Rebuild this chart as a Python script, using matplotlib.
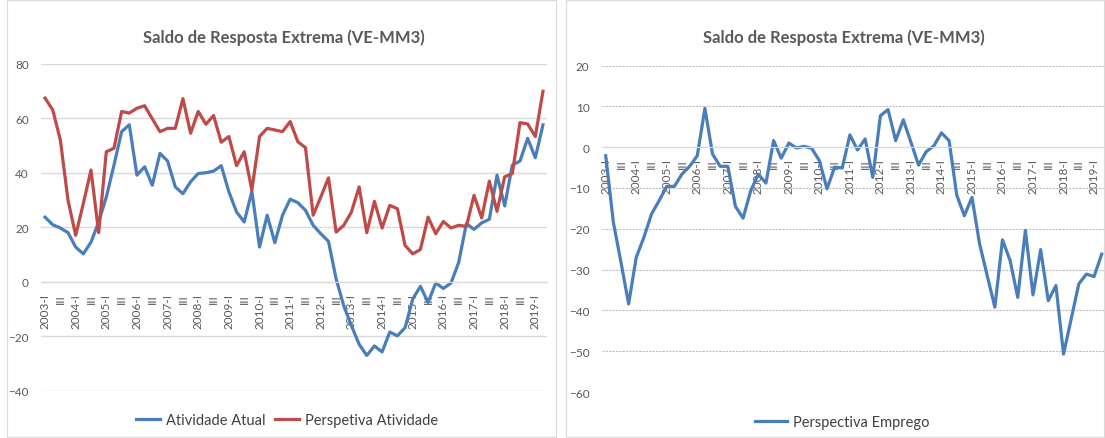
import matplotlib
matplotlib.use("Agg")
import matplotlib.pyplot as plt
from matplotlib.patches import Rectangle

plt.rcParams["font.family"] = ["Lato", "DejaVu Sans"]

# quarterly categories 2003-I .. 2019-II
years = list(range(2003, 2020))
quarters = ["I", "II", "III", "IV"]
categories = [f"{y}-{q}" for y in years for q in quarters][:66]
tick_labels = [c if c.endswith("-I") else c.split("-")[1] for c in categories]

atividade_atual = [
    23.7, 20.9, 19.7, 18.0, 12.7, 10.2, 14.5, 21.9, 31.1, 42.8,
    55.1, 57.6, 39.1, 42.2, 35.4, 47.1, 44.3, 34.8, 32.3, 36.7,
    39.7, 40.0, 40.6, 42.6, 33.0, 25.6, 21.9, 33.2, 12.7, 24.4,
    14.3, 24.4, 30.3, 29.0, 26.2, 20.7, 17.6, 14.8, 1.0, -8.9,
    -16.2, -23.0, -27.1, -23.6, -25.8, -18.5, -19.9, -16.9, -6.4, -1.7,
    -7.6, -0.5, -2.5, -0.5, 7.1, 21.3, 19.2, 21.6, 22.9, 39.1,
    27.8, 42.8, 44.3, 52.6, 45.5, 57.6,
]
perspetiva_atividade = [
    67.4, 63.1, 52.0, 29.9, 17.0, 28.7, 41.0, 18.0, 47.7, 49.0,
    62.5, 61.9, 63.7, 64.6, 59.8, 55.1, 56.3, 56.3, 67.2, 54.5,
    62.5, 57.8, 61.0, 51.2, 53.3, 42.6, 47.7, 33.6, 53.3, 56.3,
    55.7, 55.1, 58.8, 51.4, 49.2, 24.4, 31.1, 38.1, 18.2, 20.7,
    25.6, 34.8, 18.0, 29.5, 19.7, 28.0, 26.8, 13.3, 10.2, 11.8,
    23.7, 17.6, 22.1, 19.7, 20.7, 20.3, 31.7, 23.4, 36.9, 25.8,
    38.5, 39.7, 58.4, 57.9, 53.3, 69.9,
]
perspectiva_emprego = [
    -2.1, -18.4, -28.2, -38.4, -27.0, -22.1, -16.4, -13.1, -9.6, -9.6,
    -6.6, -4.7, -2.1, 9.5, -1.7, -4.7, -4.7, -14.5, -17.4, -10.7,
    -6.6, -8.8, 1.6, -2.7, 1.0, -0.2, 0.2, -0.3, -3.3, -10.2,
    -4.9, -5.1, 3.0, -0.7, 2.0, -7.4, 7.7, 9.2, 1.6, 6.7,
    1.2, -4.4, -1.1, 0.3, 3.5, 1.6, -11.7, -16.8, -12.3, -23.7,
    -31.5, -39.2, -22.7, -27.8, -36.8, -20.4, -36.2, -25.1, -37.6, -33.9,
    -50.7, -42.1, -33.5, -31.1, -31.7, -26.2,
]

BLUE = "#4A7EBB"
RED = "#BE4B48"
TEXT = "#595959"
GRID = "#D9D9D9"
TITLE = "Saldo de Resposta Extrema (VE-MM3)"

W, H = 1105, 439
fig = plt.figure(figsize=(W / 100, H / 100), dpi=100)

# chart frames
for x0, x1 in [(7, 556), (566, 1104)]:
    fig.patches.append(Rectangle((x0 / W, 1 / H), (x1 - x0) / W, (H - 2) / H,
                                 transform=fig.transFigure, fill=False,
                                 edgecolor=GRID, linewidth=0.8))


def style_axis(ax, ylim, step, grid_style):
    # category axis crosses at 0, like the Excel original
    ax.spines["bottom"].set_position(("data", 0))
    ax.spines["bottom"].set_color(GRID)
    for s in ("top", "right", "left"):
        ax.spines[s].set_visible(False)
    ax.set_xlim(-0.5, len(categories) - 0.5)
    ax.set_ylim(*ylim)
    ax.set_yticks(range(ylim[0], ylim[1] + 1, step))
    ax.set_xticks(range(0, len(categories), 2))
    ax.set_xticklabels(tick_labels[::2])
    ax.tick_params(axis="x", length=0, pad=8, labelsize=8.5,
                   labelcolor=TEXT, labelrotation=90)
    ax.tick_params(axis="y", length=0, pad=9, labelsize=8.5, labelcolor=TEXT)
    ax.grid(axis="y", **grid_style)
    ax.set_axisbelow(True)


x = range(len(categories))

# left chart
ax1 = fig.add_axes([41.2 / W, (H - 391.6) / H, 505.6 / W, 326.8 / H])
l1, = ax1.plot(x, atividade_atual, color=BLUE, lw=2.3, solid_joinstyle="round")
l2, = ax1.plot(x, perspetiva_atividade, color=RED, lw=2.3, solid_joinstyle="round")
style_axis(ax1, (-40, 80), 20, dict(color=GRID, linewidth=1.0))
fig.text(284 / W, 1 - 38 / H, TITLE, ha="center", va="center",
         fontsize=12, fontweight="bold", color=TEXT)
fig.legend([l1, l2], ["Atividade Atual", "Perspetiva Atividade"],
           loc="center", bbox_to_anchor=(287 / W, 1 - 421 / H), ncol=2,
           frameon=False, fontsize=10.5, handlelength=1.7, handletextpad=0.4,
           columnspacing=0.6, labelcolor="#404040")

# right chart
ax2 = fig.add_axes([601.9 / W, (H - 393.1) / H, 503.6 / W, 326.6 / H])
l3, = ax2.plot(x, perspectiva_emprego, color=BLUE, lw=2.3, solid_joinstyle="round")
style_axis(ax2, (-60, 20), 10,
           dict(color="#BFBFBF", linewidth=0.8, linestyle=(0, (2, 1))))
fig.text(844 / W, 1 - 38 / H, TITLE, ha="center", va="center",
         fontsize=12, fontweight="bold", color=TEXT)
fig.legend([l3], ["Perspectiva Emprego"], loc="center",
           bbox_to_anchor=(842 / W, 1 - 423 / H), frameon=False,
           fontsize=10.5, handlelength=2.2, handletextpad=0.4,
           labelcolor="#404040")

fig.savefig("out.png", dpi=100, facecolor="white")
